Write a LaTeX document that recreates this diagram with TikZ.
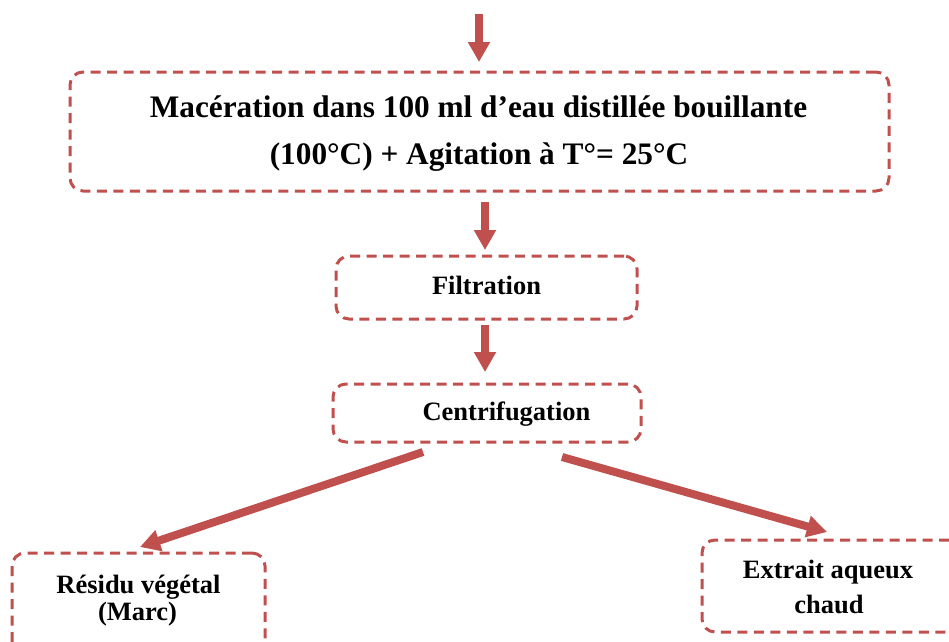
\documentclass[tikz,border=0pt]{standalone}
\usepackage{fontspec}
\setmainfont{Liberation Serif}
\usetikzlibrary{arrows.meta}
\definecolor{accent}{HTML}{C0504D}
\begin{document}
\begin{tikzpicture}[x=1pt,y=-1pt,
  box/.style={draw=accent,line width=3pt,dash pattern=on 10pt off 6.5pt,rounded corners=13pt,rectangle,inner sep=0pt},
  flow/.style={draw=accent,line width=8pt,-{Triangle[width=21pt,length=20pt]}},
  big/.style={font=\bfseries\fontsize{31.3}{33}\selectfont,anchor=base,inner sep=0pt},
  lab/.style={font=\bfseries\fontsize{26.5}{30}\selectfont,anchor=base,inner sep=0pt}]
\useasboundingbox (0,0) rectangle (949,641);
\clip (0,0) rectangle (949,641);
% boxes
\node[box,minimum width=819pt,minimum height=119pt] (mac) at (479.5,131.5) {};
\node[box,minimum width=301pt,minimum height=63pt] (fil) at (486.5,287.5) {};
\node[box,minimum width=308pt,minimum height=58pt] (cen) at (487,413) {};
\node[box,minimum width=253pt,minimum height=110pt] (res) at (138.5,608) {};
\node[box,minimum width=260pt,minimum height=92pt] (ext) at (832,586) {};
% texts
\node[big] (t1) at (478.5,117) {Macération dans 100 ml d’eau distillée bouillante};
\node[big] (t2) at (479,164) {(100°C) + Agitation à T°= 25°C};
\node[lab] (t3) at (486.5,294) {Filtration};
\node[lab] (t4) at (506.5,420) {Centrifugation};
\node[lab] (t5) at (138.5,593) {Résidu végétal};
\node[lab] (t6) at (137.5,620) {(Marc)};
\node[lab] (t7) at (828,578) {Extrait aqueux};
\node[lab] (t8) at (829,613) {chaud};
% arrow end points
\coordinate (in) at (479,14);
\coordinate (a1) at (479,62);
\coordinate (b0) at (485,202);
\coordinate (b1) at (485,250);
\coordinate (c0) at (485,325);
\coordinate (c1) at (485,372);
\coordinate (l0) at (423,452);
\coordinate (l1) at (140,547);
\coordinate (r0) at (562,457);
\coordinate (r1) at (827,532);
\draw[flow] (in) -- (a1);
\draw[flow] (b0) -- (b1);
\draw[flow] (c0) -- (c1);
\draw[flow] (l0) -- (l1);
\draw[flow] (r0) -- (r1);
\end{tikzpicture}
\end{document}
